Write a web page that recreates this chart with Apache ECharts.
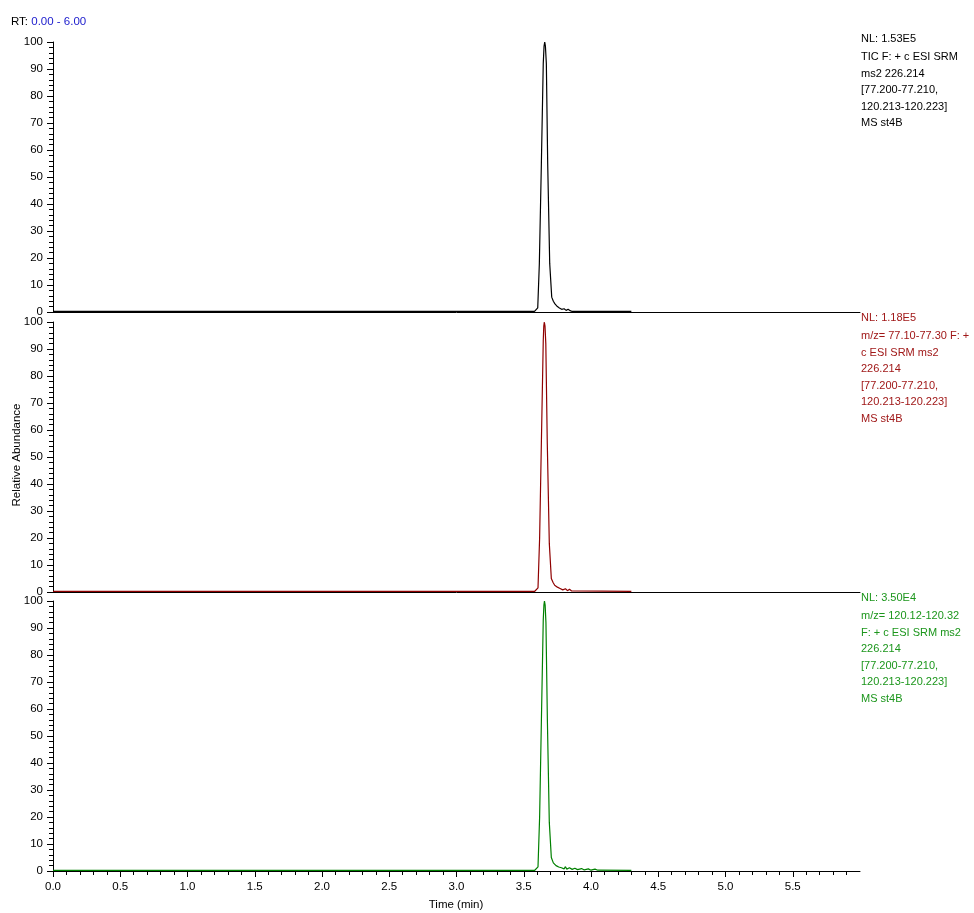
<!DOCTYPE html>
<html>
<head>
<meta charset="utf-8">
<script src="https://cdn.jsdelivr.net/npm/echarts@6/dist/echarts.min.js"></script>
<style>
  html, body { margin: 0; padding: 0; background: #fff; }
  #chart { width: 974px; height: 913px; }
</style>
</head>
<body>
<div id="chart"></div>
<script>
// 数据
const ticTimes = [0, 3.58, 3.604, 3.616, 3.631, 3.645, 3.651, 3.656, 3.661, 3.668, 3.678, 3.693, 3.708, 3.72, 3.732, 3.75, 3.765, 3.782, 3.80, 3.815, 3.83, 3.845, 3.86, 4.30]
const ticValues = [0.2, 0.2, 1.5, 18, 55, 92, 98.5, 100, 98.5, 92, 55, 18, 5.5, 4, 3, 2, 1.5, 1, 1.2, 0.6, 1, 0.5, 0.2, 0.2]

const mz77Times = [0, 3.58, 3.606, 3.618, 3.632, 3.645, 3.649, 3.653, 3.658, 3.664, 3.675, 3.69, 3.705, 3.718, 3.73, 3.75, 3.77, 3.79, 3.81, 3.825, 3.84, 3.856, 3.87, 4.30]
const mz77Values = [0.2, 0.2, 1.5, 20, 58, 93, 98.5, 100, 98.5, 92, 55, 18, 5, 3.5, 2.5, 1.8, 1.3, 0.8, 1.2, 0.5, 1, 0.4, 0.2, 0.2]

const mz120Times = [0, 3.58, 3.606, 3.618, 3.632, 3.645, 3.65, 3.654, 3.659, 3.665, 3.676, 3.69, 3.705, 3.72, 3.74, 3.76, 3.78, 3.80, 3.81, 3.82, 3.84, 3.86, 3.88, 3.90, 3.93, 3.95, 3.98, 4.00, 4.03, 4.05, 4.30]
const mz120Values = [0.2, 0.2, 1.5, 20, 58, 93, 98.5, 100, 98.5, 92, 55, 18, 5, 3, 2, 1.5, 1.2, 0.8, 1.6, 0.7, 1.2, 0.6, 1, 0.5, 0.9, 0.4, 0.8, 0.3, 0.7, 0.3, 0.2]

const majorTicks = [0, 0.5, 1.0, 1.5, 2.0, 2.5, 3.0, 3.5, 4.0, 4.5, 5.0, 5.5]
const minorTicks = [0.1, 0.2, 0.3, 0.4, 0.6, 0.7, 0.8, 0.9, 1.1, 1.2, 1.3, 1.4, 1.6, 1.7, 1.8, 1.9,
  2.1, 2.2, 2.3, 2.4, 2.6, 2.7, 2.8, 2.9, 3.1, 3.2, 3.3, 3.4, 3.6, 3.7, 3.8, 3.9,
  4.1, 4.2, 4.3, 4.4, 4.6, 4.7, 4.8, 4.9, 5.1, 5.2, 5.3, 5.4, 5.6, 5.7, 5.8, 5.9]

const panelNotes = [
  {nl: 'NL: 1.53E5', lines: ['TIC F: + c ESI SRM', 'ms2 226.214', '[77.200-77.210,', '120.213-120.223]', 'MS st4B']},
  {nl: 'NL: 1.18E5', lines: ['m/z= 77.10-77.30 F: +', 'c ESI SRM ms2', '226.214', '[77.200-77.210,', '120.213-120.223]', 'MS st4B']},
  {nl: 'NL: 3.50E4', lines: ['m/z= 120.12-120.32', 'F: + c ESI SRM ms2', '226.214', '[77.200-77.210,', '120.213-120.223]', 'MS st4B']}
]

const FONT = 'Liberation Sans, Arial, sans-serif'
const lineColors = ['#000000', '#8f0000', '#008000']
const textColors = ['#000000', '#a01818', '#1c961c']
const gridTops = [42, 322, 601]
const noteTops = [39, 318, 598]

const zip = (t, v) => t.map((x, i) => [x, v[i]])

const chart = echarts.init(document.getElementById('chart'))

const grids = gridTops.map(top => ({left: 53, right: 114, top: top, height: 270}))

// x 轴：每个面板一条基线，最下方带标签
const xAxes = [0, 1, 2].map(i => ({
  type: 'value', gridIndex: i, min: 0, max: 6, position: 'bottom',
  axisLine: {show: true, lineStyle: {color: '#000', width: 1}},
  axisTick: {show: false},
  axisLabel: i === 2
    ? {show: true, customValues: majorTicks, formatter: v => v.toFixed(1), fontFamily: FONT, fontSize: 11.5, color: '#000', margin: 10}
    : {show: false},
  splitLine: {show: false}
}))
// 主刻度 / 次刻度
const tickAxis = (values, len) => ({
  type: 'value', gridIndex: 2, min: 0, max: 6, position: 'bottom',
  axisLine: {show: false},
  axisTick: {show: true, customValues: values, length: len, lineStyle: {color: '#000'}},
  axisLabel: {show: false},
  splitLine: {show: false}
})
xAxes.push(tickAxis(majorTicks, 6))
xAxes.push(tickAxis(minorTicks, 4))

const yAxes = [0, 1, 2].map(i => ({
  type: 'value', gridIndex: i, min: 0, max: 100, interval: 10,
  axisLine: {show: true, lineStyle: {color: '#000', width: 1}},
  axisTick: {show: true, length: 6, lineStyle: {color: '#000'}},
  minorTick: {show: true, splitNumber: 5, length: 4, lineStyle: {color: '#000'}},
  axisLabel: {fontFamily: FONT, fontSize: 11.5, color: '#000', margin: 10},
  splitLine: {show: false}
}))

const seriesData = [zip(ticTimes, ticValues), zip(mz77Times, mz77Values), zip(mz120Times, mz120Values)]

const graphics = [
  {
    type: 'text', left: 11, top: 16,
    style: {
      text: '{a|RT: }{b|0.00 - 6.00}',
      rich: {
        a: {fontFamily: FONT, fontSize: 11.5, fill: '#000'},
        b: {fontFamily: FONT, fontSize: 11.5, fill: '#1a1acc'}
      }
    }
  },
  {
    type: 'text', x: 17, y: 455, rotation: Math.PI / 2,
    style: {text: 'Relative Abundance', fontFamily: FONT, fontSize: 11.5, fill: '#000', align: 'center', verticalAlign: 'middle'}
  },
  {
    type: 'text', x: 456, y: 905,
    style: {text: 'Time (min)', fontFamily: FONT, fontSize: 11.5, fill: '#000', align: 'center', verticalAlign: 'middle'}
  }
]
panelNotes.forEach((n, i) => {
  graphics.push({
    type: 'text', x: 861, y: noteTops[i],
    style: {text: n.nl, fontFamily: FONT, fontSize: 11, fill: textColors[i], verticalAlign: 'middle'}
  })
  graphics.push({
    type: 'text', x: 861, y: noteTops[i] + 18 - 8.3,
    style: {text: n.lines.join('\n'), fontFamily: FONT, fontSize: 11, lineHeight: 16.6, fill: textColors[i], verticalAlign: 'top'}
  })
})

chart.setOption({
  animation: false,
  grid: grids,
  xAxis: xAxes,
  yAxis: yAxes,
  series: seriesData.map((d, i) => ({
    type: 'line', xAxisIndex: i, yAxisIndex: i,
    symbol: 'none', smooth: false,
    lineStyle: {color: lineColors[i], width: 1.2},
    data: d
  })),
  graphic: graphics
})
</script>
</body>
</html>
